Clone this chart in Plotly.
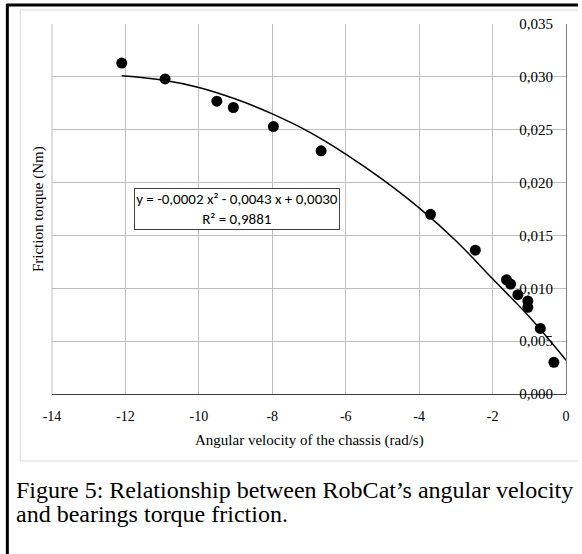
import plotly.graph_objects as go

# measured points (angular velocity rad/s, friction torque Nm)
omega = [-12.10, -10.92, -9.51, -9.06, -7.97, -6.67, -3.69, -2.47,
         -1.62, -1.51, -1.31, -1.04, -1.04, -0.70, -0.33]
torque = [0.0313, 0.0298, 0.0277, 0.0271, 0.0253, 0.0230, 0.0170, 0.0136,
          0.0108, 0.0104, 0.0094, 0.0088, 0.0082, 0.0062, 0.0030]

# polynomial trend line
trend_x = [-12.1, -11, -10, -9, -8, -7, -6, -5, -4, -3, -2, -1, 0]
trend_y = [0.0301, 0.0297, 0.0290, 0.0279, 0.0265, 0.0248, 0.0227,
           0.0203, 0.0176, 0.0145, 0.0109, 0.0073, 0.0032]

x_ticks = [-14, -12, -10, -8, -6, -4, -2, 0]
x_labels = ["-14", "-12", "-10", "-8", "-6", "-4", "-2", "0"]

equation = "y = -0,0002 x² - 0,0043 x + 0,0030<br>R² = 0,9881"
caption_1 = "Figure 5: Relationship between RobCat’s angular velocity"
caption_2 = "and bearings torque friction."

W, H = 582, 554
L, R, T, B = 52, 12, 24, 160
pw, ph = W - L - R, H - T - B


def px(p):
    # pixel x -> paper x
    return (p - L) / pw


def py(p):
    # pixel y -> paper y
    return (T + ph - p) / ph


serif = "Liberation Serif, Times New Roman, serif"

fig = go.Figure()

fig.add_trace(go.Scatter(
    x=trend_x, y=trend_y, mode="lines", line_shape="spline",
    line=dict(color="black", width=1.5), showlegend=False,
))
fig.add_trace(go.Scatter(
    x=omega, y=torque, mode="markers",
    marker=dict(color="black", size=11), showlegend=False,
))

fig.update_layout(
    width=W, height=H,
    margin=dict(l=L, r=R, t=T, b=B, pad=0),
    paper_bgcolor="white", plot_bgcolor="white",
    separators=",.",
    xaxis=dict(
        range=[-14, 0], tickvals=x_ticks, ticktext=x_labels,
        showgrid=True, gridcolor="#bfbfbf", gridwidth=1,
        showline=True, linecolor="#404040", linewidth=1,
        zeroline=False, ticks="", ticklabelstandoff=9,
        tickfont=dict(family=serif, size=14, color="black"),
    ),
    # value axis sits at x = 0 (right edge), labels drawn to its left
    yaxis=dict(
        range=[0, 0.035], dtick=0.005, tickformat=".3f",
        side="left", anchor="free", position=1, ticklabelstandoff=10,
        showgrid=True, gridcolor="#bfbfbf", gridwidth=1,
        showline=True, linecolor="#7f7f7f", linewidth=1,
        zeroline=False, ticks="",
        tickfont=dict(family=serif, size=15, color="black"),
    ),
)

# light chart frame (open on the right, runs off the page)
frame = dict(color="#d9d9d9", width=1)
fig.add_shape(type="line", xref="paper", yref="paper",
              x0=px(20), x1=px(20), y0=py(461), y1=py(10), line=frame)
fig.add_shape(type="line", xref="paper", yref="paper",
              x0=px(20), x1=px(582), y0=py(10), y1=py(10), line=frame)
fig.add_shape(type="line", xref="paper", yref="paper",
              x0=px(20), x1=px(582), y0=py(461), y1=py(461), line=frame)
# black page borders
fig.add_shape(type="line", xref="paper", yref="paper",
              x0=px(7), x1=px(7), y0=py(4), y1=py(554),
              line=dict(color="black", width=3))
fig.add_shape(type="line", xref="paper", yref="paper",
              x0=px(6), x1=px(582), y0=py(5), y1=py(5),
              line=dict(color="black", width=3))
# left edge of the plot area
fig.add_shape(type="line", xref="paper", yref="paper",
              x0=0, x1=0, y0=0, y1=1, line=dict(color="#bfbfbf", width=1))

fig.add_annotation(
    x=px(238), y=py(209), xref="paper", yref="paper",
    xanchor="center", yanchor="middle",
    text=equation, showarrow=False,
    font=dict(family="Carlito, Lato, sans-serif", size=15, color="black"),
    bgcolor="white", bordercolor="#404040", borderwidth=1, borderpad=1,
    width=202, align="center",
)
fig.add_annotation(
    x=px(38), y=0.5, xref="paper", yref="paper",
    xanchor="center", yanchor="middle",
    text="Friction torque (Nm)", textangle=-90, showarrow=False,
    font=dict(family=serif, size=15, color="black"),
)
fig.add_annotation(
    x=0.5, y=py(440), xref="paper", yref="paper",
    xanchor="center", yanchor="middle",
    text="Angular velocity of the chassis (rad/s)", showarrow=False,
    font=dict(family=serif, size=15, color="black"),
)
fig.add_annotation(
    x=px(14), y=py(490), xref="paper", yref="paper",
    xanchor="left", yanchor="middle",
    text=caption_1, showarrow=False,
    font=dict(family=serif, size=24, color="black"),
)
fig.add_annotation(
    x=px(14), y=py(514), xref="paper", yref="paper",
    xanchor="left", yanchor="middle",
    text=caption_2, showarrow=False,
    font=dict(family=serif, size=24, color="black"),
)

# page body has an 8px default margin; drop it so the figure fills the window
fig.write_html(
    "out.html",
    config={"displayModeBar": False},
    post_script="document.body.style.margin = '0';"
                "document.body.style.overflow = 'hidden';"
                "document.documentElement.style.overflow = 'hidden';",
)
